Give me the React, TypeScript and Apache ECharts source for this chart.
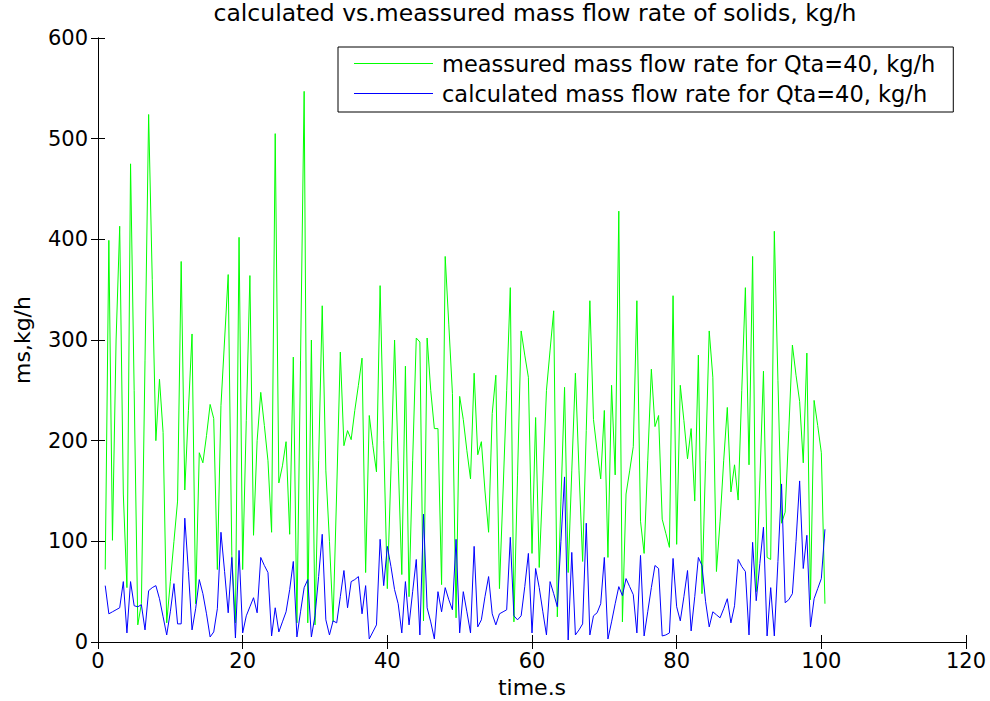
import React, { useEffect, useRef } from "react";
import * as echarts from "echarts";

// time samples, s (one sample every 0.5 s from 1 s)
const TIME: number[] = Array.from({ length: 200 }, (_, i) => 1 + i * 0.5);

// measured mass flow rate for Qta=40, kg/h
const MEASURED: number[] = [
  72, 399, 101, 300, 413, 147, 54, 475, 250, 17,
  38, 280, 524, 360, 200, 261, 208, 19, 60, 100,
  140, 378, 151, 230, 306, 38, 188, 178, 205, 236,
  222, 72, 235, 300, 365, 86, 19, 402, 72, 220,
  364, 106, 200, 248, 215, 180, 109, 505, 158, 175,
  199, 107, 283, 19, 280, 547, 19, 300, 17, 180,
  334, 170, 100, 20, 150, 288, 195, 210, 201, 230,
  255, 282, 69, 225, 195, 169, 354, 200, 53, 170,
  300, 180, 67, 274, 45, 180, 302, 298, 21, 302,
  250, 212, 212, 57, 383, 315, 247, 24, 244, 221,
  190, 162, 267, 186, 199, 150, 109, 227, 265, 53,
  150, 250, 352, 20, 165, 309, 285, 263, 88, 223,
  74, 160, 250, 290, 329, 25, 140, 253, 69, 170,
  267, 170, 80, 210, 339, 221, 190, 162, 230, 84,
  255, 166, 428, 20, 147, 170, 194, 339, 120, 88,
  180, 271, 214, 225, 122, 108, 94, 344, 97, 255,
  220, 182, 212, 140, 285, 48, 180, 309, 263, 70,
  120, 180, 233, 149, 176, 141, 250, 352, 176, 383,
  50, 160, 269, 84, 82, 408, 260, 118, 129, 210,
  295, 265, 239, 178, 287, 42, 240, 215, 188, 38,
];

// calculated mass flow rate for Qta=40, kg/h
const CALCULATED: number[] = [
  56, 28, 30, 32, 34, 60, 9, 60, 36, 35,
  37, 12, 51, 54, 56, 43, 25, 7, 30, 58,
  18, 18, 123, 70, 12, 33, 62, 48, 28, 5,
  10, 33, 109, 70, 29, 84, 4, 91, 9, 26,
  35, 44, 29, 84, 76, 69, 6, 34, 10, 20,
  30, 52, 80, 5, 30, 54, 62, 5, 26, 65,
  107, 22, 7, 21, 19, 45, 71, 34, 60, 62,
  65, 28, 56, 3, 10, 17, 102, 56, 95, 75,
  52, 38, 9, 60, 17, 50, 82, 7, 127, 34,
  20, 3, 50, 30, 54, 42, 32, 102, 9, 50,
  30, 9, 95, 15, 22, 45, 65, 28, 17, 28,
  30, 32, 104, 26, 22, 26, 55, 88, 9, 73,
  54, 30, 7, 60, 48, 35, 100, 164, 2, 89,
  7, 12, 18, 118, 7, 26, 29, 38, 84, 3,
  20, 38, 55, 46, 63, 55, 47, 9, 86, 6,
  30, 54, 76, 73, 6, 7, 9, 83, 35, 21,
  45, 71, 11, 45, 84, 76, 40, 15, 30, 27,
  24, 33, 43, 19, 36, 82, 75, 70, 7, 99,
  41, 78, 114, 6, 54, 6, 80, 157, 39, 42,
  48, 100, 160, 73, 106, 15, 43, 53, 63, 112,
];

const SERIES_NAMES = [
  "meassured mass flow rate for Qta=40, kg/h",
  "calculated mass flow rate for Qta=40, kg/h",
];
const TITLE = "calculated vs.meassured mass flow rate of solids, kg/h";
const X_NAME = "time.s";
const Y_NAME = "ms,kg/h";

const FONT = "'DejaVu Sans', 'Liberation Sans', Arial, sans-serif";

export default function App() {
  const ref = useRef<HTMLDivElement>(null);

  useEffect(() => {
    if (!ref.current) return;
    const chart = echarts.init(ref.current, undefined, { renderer: "svg" });

    const measured = TIME.map((t, i) => [t, MEASURED[i]]);
    const calculated = TIME.map((t, i) => [t, CALCULATED[i]]);

    const tickCommon = {
      show: true,
      inside: true,
      length: 7,
      lineStyle: { color: "#000", width: 1 },
    };
    const lineCommon = { show: true, lineStyle: { color: "#000", width: 1 } };

    chart.setOption({
      animation: false,
      backgroundColor: "#fff",
      textStyle: { fontFamily: FONT },
      grid: {
        left: 98,
        right: 24,
        top: 38,
        bottom: 59,
        containLabel: false,
        outerBoundsMode: "none",
      },
      graphic: [
        {
          type: "text",
          x: 535,
          y: 13,
          style: {
            text: TITLE,
            fontSize: 23.5,
            fontFamily: FONT,
            fill: "#000",
            align: "center",
            verticalAlign: "middle",
          },
        },
      ],
      legend: {
        show: true,
        orient: "vertical",
        left: 338,
        top: 47,
        icon: "rect",
        itemWidth: 79,
        itemHeight: 1,
        itemGap: 7,
        padding: [5, 18, 7, 16],
        borderColor: "#000",
        borderWidth: 1,
        backgroundColor: "#fff",
        borderRadius: 0,
        textStyle: {
          fontSize: 22.5,
          lineHeight: 22,
          color: "#000",
          fontFamily: FONT,
          padding: [0, 0, 0, 4],
        },
        data: SERIES_NAMES,
      },
      xAxis: [
        {
          type: "value",
          min: 0,
          max: 120,
          interval: 20,
          position: "bottom",
          name: X_NAME,
          nameLocation: "middle",
          nameGap: 34,
          nameTextStyle: { fontSize: 22, lineHeight: 22, color: "#000", fontFamily: FONT },
          axisLine: lineCommon,
          axisTick: tickCommon,
          axisLabel: { fontSize: 21, color: "#000", margin: 8, fontFamily: FONT },
          splitLine: { show: false },
        },
        {
          type: "value",
          min: 0,
          max: 120,
          interval: 20,
          position: "top",
          axisLine: lineCommon,
          axisTick: tickCommon,
          axisLabel: { show: false },
          splitLine: { show: false },
        },
      ],
      yAxis: [
        {
          type: "value",
          min: 0,
          max: 600,
          interval: 100,
          position: "left",
          name: Y_NAME,
          nameLocation: "middle",
          nameGap: 65,
          nameTextStyle: { fontSize: 22, color: "#000", fontFamily: FONT },
          axisLine: lineCommon,
          axisTick: tickCommon,
          axisLabel: { fontSize: 21, color: "#000", margin: 10, fontFamily: FONT },
          splitLine: { show: false },
        },
        {
          type: "value",
          min: 0,
          max: 600,
          interval: 100,
          position: "right",
          axisLine: lineCommon,
          axisTick: tickCommon,
          axisLabel: { show: false },
          splitLine: { show: false },
        },
      ],
      series: [
        {
          name: SERIES_NAMES[0],
          type: "line",
          data: measured,
          xAxisIndex: 0,
          yAxisIndex: 0,
          symbol: "none",
          showSymbol: false,
          lineStyle: { color: "#00ff00", width: 1 },
          itemStyle: { color: "#00ff00" },
          emphasis: { disabled: true },
        },
        {
          name: SERIES_NAMES[1],
          type: "line",
          data: calculated,
          xAxisIndex: 0,
          yAxisIndex: 0,
          symbol: "none",
          showSymbol: false,
          lineStyle: { color: "#0000ff", width: 1 },
          itemStyle: { color: "#0000ff" },
          emphasis: { disabled: true },
        },
      ],
    });

    return () => chart.dispose();
  }, []);

  return (
    <div
      ref={ref}
      style={{ position: "fixed", left: 0, top: 0, width: 990, height: 701, background: "#fff" }}
    />
  );
}
